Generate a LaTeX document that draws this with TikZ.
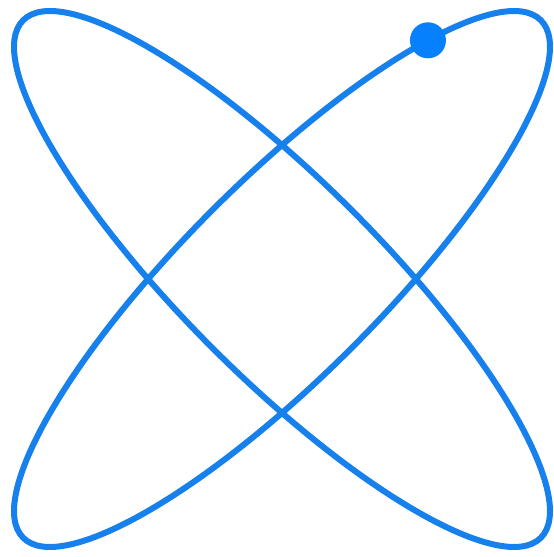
\documentclass[tikz,border=0pt]{standalone}
\usepackage{tikz}
\usetikzlibrary{calc}

\definecolor{orbitblue}{RGB}{22,128,236}
\definecolor{ballblue}{RGB}{6,128,252}

\begin{document}
\begin{tikzpicture}[
        x=1pt, y=1pt,
        orbit/.style={draw=orbitblue, line width=6pt},
        ball/.style={circle, fill=ballblue, minimum size=36pt, inner sep=0pt}
    ]
        \useasboundingbox (0,0) rectangle (554,557);
        \coordinate (ctr) at (282,278);

        % the two loops
        \draw[orbit, rotate around={45:(ctr)}] (ctr) ellipse [x radius=366, y radius=98];
        \draw[orbit, rotate around={-45:(ctr)}] (ctr) ellipse [x radius=366, y radius=98];

        % moving point
        \begin{scope}[shift={(ctr)}, rotate=45]
            \node[ball] (point) at (42:366 and 98) {};
        \end{scope}
    \end{tikzpicture}
\end{document}
